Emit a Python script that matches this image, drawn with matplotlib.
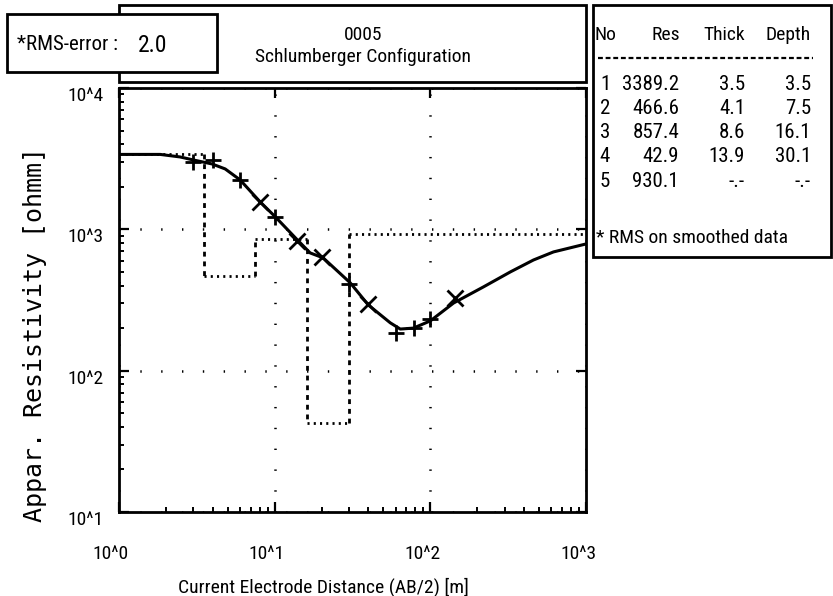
import matplotlib
matplotlib.use("Agg")
import matplotlib.pyplot as plt
from matplotlib.patches import Rectangle
from matplotlib.lines import Line2D
from matplotlib.transforms import ScaledTranslation
from matplotlib.ticker import FixedLocator, LogLocator, NullFormatter

# Field measurements: half current-electrode spacing AB/2 [m] and apparent resistivity [ohm m]
ab2_obs = [3, 4, 6, 8, 10, 14, 20, 30, 40, 60, 78, 100, 143]
rho_obs = [3000, 3100, 2240, 1560, 1225, 830, 640, 411, 296, 185, 200, 232, 327]
obs_marker = ['+', '+', '+', 'x', '+', 'x', 'x', '+', 'x', '+', '+', '+', 'x']

# Model response curve of the inverted layer model
ab2_fit = [1, 1.84, 2.47, 3.0, 3.96, 4.81, 6.0, 8.07, 10.1, 14.0, 16.9, 20.5,
           30.6, 39.9, 55.3, 64.1, 77.8, 100, 141, 219, 327, 460, 618, 1000]
rho_fit = [3389, 3389, 3252, 3097, 2901, 2675, 2237, 1563, 1225, 841, 681, 628,
           418, 292, 218, 197, 200, 225, 301, 391, 500, 607, 692, 788]

# Layered earth model
layer_no = [1, 2, 3, 4, 5]
layer_res = [3389.2, 466.6, 857.4, 42.9, 930.1]
layer_thick = [3.5, 4.1, 8.6, 13.9, None]
layer_depth = [3.5, 7.5, 16.1, 30.1, None]

x_ticks = [1, 10, 100, 1000]
x_tick_labels = ['10^0', '10^1', '10^2', '10^3']
y_ticks = [10, 100, 1000, 10000]
y_tick_labels = ['10^1', '10^2', '10^3', '10^4']

rms_error = 2.0
sounding_id = '0005'
array_name = 'Schlumberger Configuration'

W, H = 833, 596
NARROW = ['Roboto Condensed', 'Liberation Sans Narrow', 'Liberation Sans']
MONO = ['DejaVu Sans Mono']

plt.rcParams['lines.scale_dashes'] = False
plt.rcParams['font.family'] = NARROW

fig = plt.figure(figsize=(W / 100, H / 100), dpi=100)
fig.patch.set_facecolor('white')


def fx(x):
    return x / W


def fy(y):
    return 1 - y / H


def box(x0, y0, x1, y1, z):
    r = Rectangle((fx(x0), fy(y1)), (x1 - x0) / W, (y1 - y0) / H,
                  transform=fig.transFigure, facecolor='white',
                  edgecolor='black', linewidth=2.0, zorder=z)
    fig.add_artist(r)


# plot area
ax = fig.add_axes([fx(119), fy(512), (586 - 119) / W, (512 - 88) / H])
ax.set_xscale('log')
ax.set_yscale('log')
ax.set_xlim(x_ticks[0], x_ticks[-1])
ax.set_ylim(y_ticks[0], y_ticks[-1])

ax.grid(True, which='major', color='black', linewidth=1.8,
        linestyle=(0, (1, 14)))
ax.set_axisbelow(True)

# layer model as a staircase: dotted levels, dashed boundaries
tops = [x_ticks[0]] + layer_depth[:-1]
bottoms = layer_depth[:-1] + [x_ticks[-1]]
ax.hlines(layer_res, tops, bottoms, colors='black', linewidth=2.0,
          linestyles=[(0, (1.5, 3.0))], zorder=2)
ax.vlines(layer_depth[:-1], layer_res[:-1], layer_res[1:], colors='black',
          linewidth=2.0, linestyles=[(0, (3.5, 3.5))], zorder=2)

# model response
ax.plot(ab2_fit, rho_fit, color='black', linewidth=2.2, zorder=3)

# observations
for xv, yv, m in zip(ab2_obs, rho_obs, obs_marker):
    ax.plot([xv], [yv], linestyle='none', marker=m, markersize=11,
            markeredgewidth=2.0, color='black', zorder=4)

for s in ax.spines.values():
    s.set_linewidth(2.0)

ax.xaxis.set_major_locator(FixedLocator(x_ticks))
ax.yaxis.set_major_locator(FixedLocator(y_ticks))
ax.xaxis.set_minor_locator(LogLocator(base=10, subs=range(2, 10)))
ax.yaxis.set_minor_locator(LogLocator(base=10, subs=range(2, 10)))
ax.xaxis.set_minor_formatter(NullFormatter())
ax.yaxis.set_minor_formatter(NullFormatter())
ax.set_xticklabels(x_tick_labels)
ax.set_yticklabels(y_tick_labels)

ax.tick_params(which='major', direction='in', length=7, width=1.6,
               top=True, right=True, labelsize=14, colors='black')
ax.tick_params(which='minor', direction='in', length=3.5, width=1.4,
               top=False, right=False)
ax.tick_params(axis='x', which='major', pad=24)
ax.tick_params(axis='y', which='major', pad=11)

for lbl in ax.get_xticklabels():
    lbl.set_transform(lbl.get_transform()
                      + ScaledTranslation(-0.08, 0, fig.dpi_scale_trans))
for lbl in ax.get_yticklabels():
    lbl.set_transform(lbl.get_transform()
                      + ScaledTranslation(0, -0.06, fig.dpi_scale_trans))

fig.text(fx(323), fy(587), 'Current Electrode Distance (AB/2) [m]',
         ha='center', va='center', fontsize=14)
fig.text(fx(35), fy(335), 'Appar. Resistivity [ohmm]', rotation=90,
         ha='center', va='center', fontsize=18, family=MONO)

# header boxes
box(119, 5, 586, 82, 5)
box(7, 14, 217, 72, 6)
fig.text(fx(363), fy(35), sounding_id, ha='center', va='center',
         fontsize=14, zorder=7)
fig.text(fx(363), fy(57), array_name, ha='center', va='center',
         fontsize=14, zorder=7)
fig.text(fx(17), fy(45), '*RMS-error :', ha='left', va='center',
         fontsize=15, zorder=7)
fig.text(fx(167), fy(45), f'{rms_error:.1f}', ha='right', va='center',
         fontsize=17, zorder=7)

# layer table
box(593, 5, 831, 257, 5)
ty = 35
fig.text(fx(595), fy(ty), 'No', ha='left', va='center', fontsize=14, zorder=7)
fig.text(fx(680), fy(ty), 'Res', ha='right', va='center', fontsize=14, zorder=7)
fig.text(fx(745), fy(ty), 'Thick', ha='right', va='center', fontsize=14, zorder=7)
fig.text(fx(811), fy(ty), 'Depth', ha='right', va='center', fontsize=14, zorder=7)
fig.add_artist(Line2D([fx(598), fx(813)], [fy(58), fy(58)],
                      transform=fig.transFigure, color='black',
                      linewidth=1.6, linestyle=(0, (3.5, 2.0)), zorder=7))

row_y = [85, 109, 133, 157, 182]
for n, r, t, d, yy in zip(layer_no, layer_res, layer_thick, layer_depth, row_y):
    t_txt = '-.-' if t is None else f'{t:.1f}'
    d_txt = '-.-' if d is None else f'{d:.1f}'
    fig.text(fx(605), fy(yy), str(n), ha='center', va='center',
             fontsize=15, zorder=7)
    fig.text(fx(679), fy(yy), f'{r:.1f}', ha='right', va='center',
             fontsize=15, zorder=7)
    fig.text(fx(745), fy(yy), t_txt, ha='right', va='center',
             fontsize=15, zorder=7)
    fig.text(fx(811), fy(yy), d_txt, ha='right', va='center',
             fontsize=15, zorder=7)

fig.text(fx(596), fy(238), '* RMS on smoothed data', ha='left', va='center',
         fontsize=14, zorder=7)

fig.savefig('out.png', dpi=100, facecolor='white')
